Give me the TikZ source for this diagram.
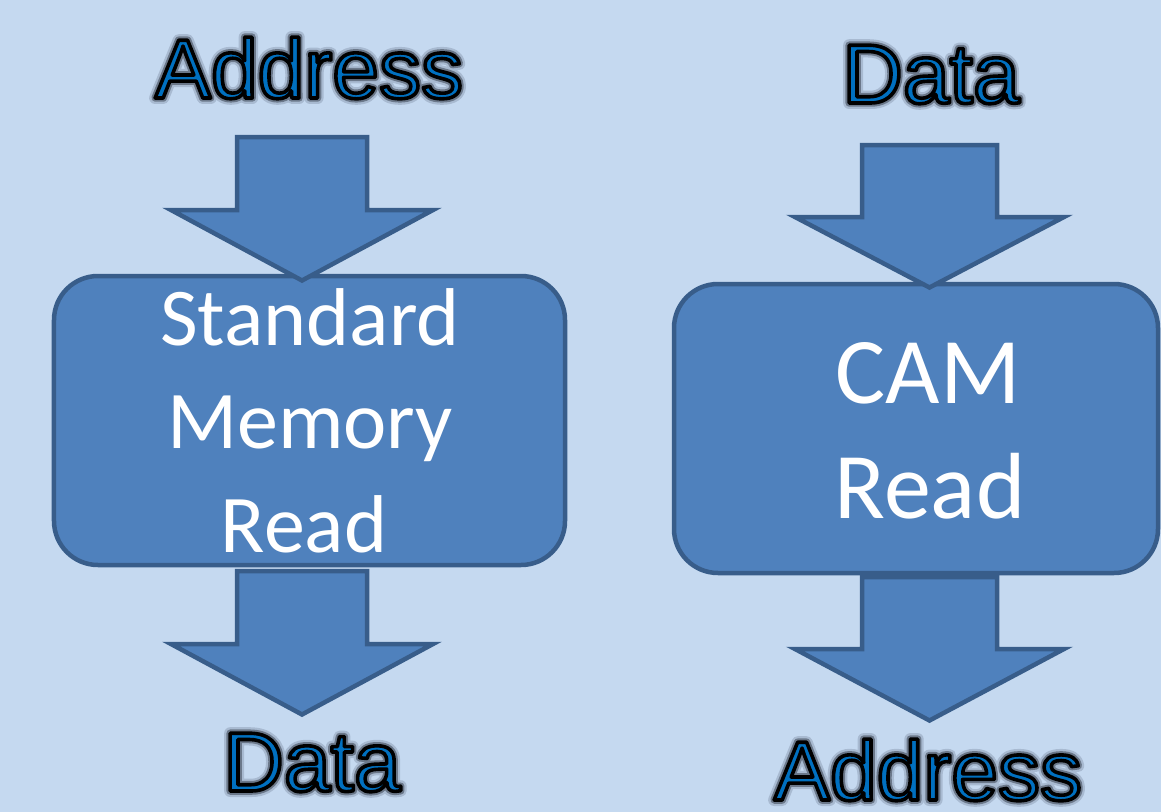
\documentclass[tikz,border=0pt]{standalone}
\usepackage{fontspec}
\setmainfont{Carlito}
\newfontfamily\labelfont{Liberation Sans}
\usetikzlibrary{calc}

\definecolor{bgblue}{RGB}{197,217,240}
\definecolor{shapefill}{RGB}{79,129,189}
\definecolor{shapeline}{RGB}{56,93,138}
\definecolor{labelblue}{RGB}{0,112,192}

% stroke colour (r g b), line width, text render mode
\newcommand\textstroke[3]{\special{pdf:literal direct #1 RG #2 w 1 j 1 J #3 Tr}}
\newcommand\textplain{\special{pdf:literal direct 0 Tr}}

% blue label with a black outline and a soft dark halo
\newcommand\outlinelabel[3]{%
  \node[lbl] (#1-halo)  at (#2) {\textstroke{0.66 0.73 0.82}{12}{1}#3\textplain};
  \node[lbl] (#1-shade) at (#2) {\textstroke{0.42 0.47 0.54}{7.5}{1}#3\textplain};
  \node[lbl] (#1)       at (#2) {\textstroke{0 0 0}{3.6}{2}#3\textplain};
}

% downward block arrow: centre x, shaft top, head line, tip, half shaft, half head
\newcommand\blockdown[6]{%
  \draw[blockarrow] (#1-#5,#2) -- (#1+#5,#2) -- (#1+#5,#3) -- (#1+#6,#3)
    -- (#1,#4) -- (#1-#6,#3) -- (#1-#5,#3) -- cycle;
}

\tikzset{
  lbl/.style={font=\labelfont\fontsize{84bp}{84bp}\selectfont, text=labelblue,
    anchor=base, inner sep=0pt},
  blockarrow/.style={fill=shapefill, draw=shapeline, line width=4.5bp,
    line join=miter, miter limit=10},
  membox/.style={rectangle, fill=shapefill, draw=shapeline, line width=4.5bp,
    rounded corners=44bp, inner sep=0pt},
  smalltxt/.style={font=\fontsize{82bp}{82bp}\selectfont, text=white,
    anchor=base, inner sep=0pt},
  bigtxt/.style={font=\fontsize{94bp}{94bp}\selectfont, text=white,
    anchor=base, inner sep=0pt},
}

\begin{document}
\begin{tikzpicture}[x=1bp, y=-1bp]
  \fill[bgblue] (0,0) rectangle (1161,812);
  \useasboundingbox (0,0) rectangle (1161,812);

  % arrows leaving the boxes sit underneath them
  \blockdown{302}{571}{644}{714.5}{65}{131}
  \blockdown{929.5}{577}{649}{720.5}{67.5}{134.5}

  % the two memories
  \node[membox, minimum width=511bp, minimum height=289bp] (std) at (309.5,420.5) {};
  \node[membox, minimum width=484bp, minimum height=289bp] (cam) at (916,428.5) {};

  % arrows entering the boxes sit on top of them
  \blockdown{302}{137}{210}{280.5}{65}{131}
  \blockdown{929.5}{145}{217}{287.5}{67.5}{134.5}

  % box captions
  \node[smalltxt] (std-1) at (310,345) {Standard};
  \node[smalltxt] (std-2) at (310,448.5) {Memory};
  \node[smalltxt] (std-3) at (304,552) {Read};
  \node[bigtxt] (cam-1) at (928,403) {CAM};
  \node[bigtxt] (cam-2) at (930,518) {Read};

  % inputs and outputs
  \outlinelabel{in-std}{309,98}{Address}
  \outlinelabel{in-cam}{931,103}{Data}
  \outlinelabel{out-std}{312,791}{Data}
  \outlinelabel{out-cam}{928,800}{Address}
\end{tikzpicture}
\end{document}
